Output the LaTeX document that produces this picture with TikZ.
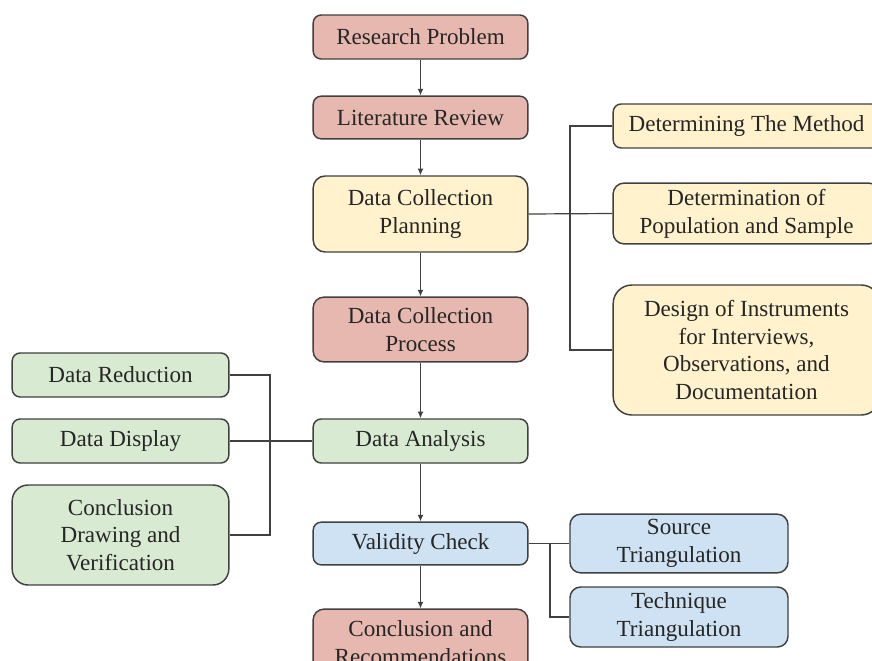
\documentclass[tikz,border=0pt]{standalone}
\usepackage{fontspec}
\setmainfont{Liberation Serif}
\usetikzlibrary{arrows.meta}

\definecolor{redfill}{HTML}{E6B8AF}
\definecolor{yellowfill}{HTML}{FFF2CC}
\definecolor{greenfill}{HTML}{D9EAD3}
\definecolor{bluefill}{HTML}{CFE2F3}
\definecolor{edgegray}{HTML}{404040}

\tikzset{
  box/.style={draw=edgegray, line width=1.1pt, rounded corners=6pt, align=center,
    inner sep=1pt, text=black!85, font=\fontsize{17.3}{20.8}\selectfont},
  redbox/.style={box, fill=redfill},
  yellowbox/.style={box, fill=yellowfill},
  greenbox/.style={box, fill=greenfill},
  bluebox/.style={box, fill=bluefill},
  link/.style={draw=edgegray, line width=0.9pt},
  arrow/.style={link, -{Latex[length=5pt,width=4.5pt]}}
}

\begin{document}
\begin{tikzpicture}[x=0.75pt, y=-0.75pt]

  \useasboundingbox (0,0) rectangle (872,661);

  % main column
  \node[redbox, minimum width=161pt, minimum height=33pt] (research) at (420.5,37) {Research Problem};
  \node[redbox, minimum width=161pt, minimum height=32pt] (literature) at (420.5,117.5) {Literature Review};
  \node[yellowbox, minimum width=161pt, minimum height=57pt, rounded corners=9pt] (planning) at (420.5,214) {Data Collection\\Planning};
  \node[redbox, minimum width=161pt, minimum height=48.5pt, rounded corners=8pt] (process) at (420.5,329.5) {Data Collection\\Process};
  \node[greenbox, minimum width=161pt, minimum height=33pt] (analysis) at (420.5,441) {Data Analysis};
  \node[bluebox, minimum width=161pt, minimum height=32pt] (validity) at (420.5,543.5) {Validity Check};
  \node[redbox, minimum width=161pt, minimum height=50pt, rounded corners=8pt] (conclusion) at (420.5,642.5) {Conclusion and\\Recommendations};

  % planning branch
  \node[yellowbox, minimum width=200pt, minimum height=33pt] (method) at (746.5,126) {Determining The Method};
  \node[yellowbox, minimum width=200pt, minimum height=45.5pt, rounded corners=8pt] (population) at (746.5,213.5) {Determination of\\Population and Sample};
  \node[yellowbox, minimum width=200pt, minimum height=97.5pt, rounded corners=14pt] (design) at (746.5,350) {Design of Instruments\\for Interviews,\\Observations, and\\Documentation};

  % analysis branch
  \node[greenbox, minimum width=162.5pt, minimum height=33pt] (reduction) at (120.5,375) {Data Reduction};
  \node[greenbox, minimum width=162.5pt, minimum height=33pt] (display) at (120.5,441) {Data Display};
  \node[greenbox, minimum width=162.5pt, minimum height=75pt, rounded corners=12pt] (drawing) at (120.5,535) {Conclusion\\Drawing and\\Verification};

  % validity branch
  \node[bluebox, minimum width=163.5pt, minimum height=44pt, rounded corners=8pt] (source) at (679,543.5) {Source\\Triangulation};
  \node[bluebox, minimum width=163.5pt, minimum height=45pt, rounded corners=8pt] (technique) at (679,617) {Technique\\Triangulation};

  % trunks
  \coordinate (ptrunk) at (570,350);
  \coordinate (ltrunk) at (270,535);
  \coordinate (vsplit) at (550,543.5);

  % arrows
  \draw[arrow] (research) -- (literature);
  \draw[arrow] (literature) -- (planning);
  \draw[arrow] (planning) -- (process);
  \draw[arrow] (process) -- (analysis);
  \draw[arrow] (analysis) -- (validity);
  \draw[arrow] (validity) -- (conclusion);

  % branch lines
  \draw[link] (planning.east) -- (population.west);
  \draw[link] (method.west) -| (ptrunk) -- (design.west);
  \draw[link] (display.east) -- (analysis.west);
  \draw[link] (reduction.east) -| (ltrunk) -- (drawing.east);
  \draw[link] (validity.east) -- (source.west);
  \draw[link] (vsplit) |- (technique.west);

\end{tikzpicture}
\end{document}
